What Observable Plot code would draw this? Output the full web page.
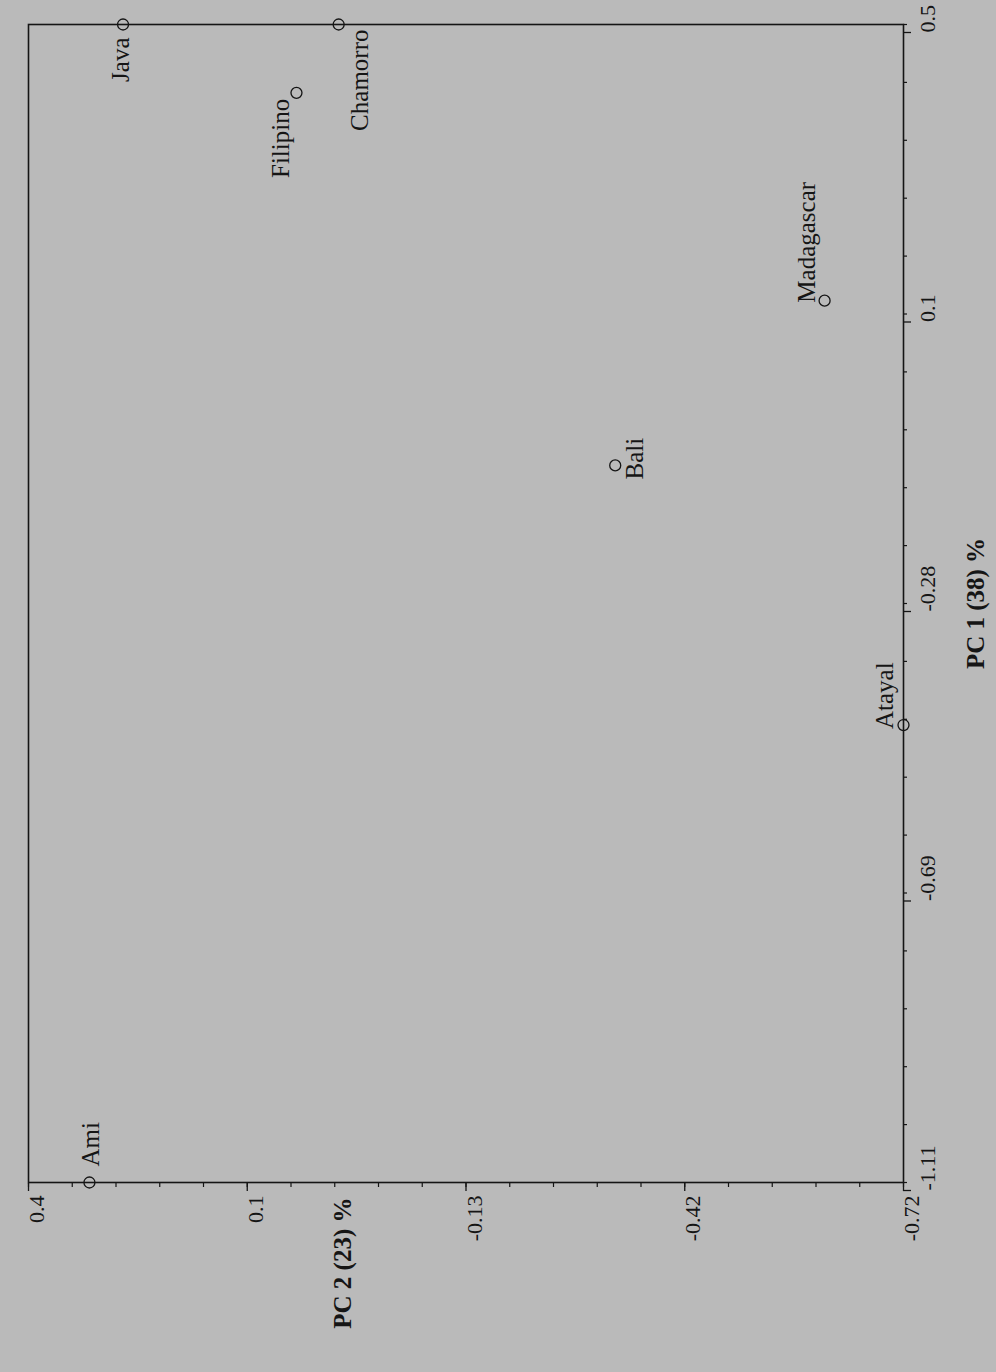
<!DOCTYPE html>
<html><head><meta charset="utf-8">
<script src="https://cdn.jsdelivr.net/npm/d3@7"></script>
<script src="https://cdn.jsdelivr.net/npm/@observablehq/plot@0.6"></script>
<style>
html,body{margin:0;padding:0;background:#bababa;width:996px;height:1372px;overflow:hidden}
#stage{position:absolute;left:0;top:0;width:1372px;height:996px;transform-origin:0 0;transform:translate(0px,1372px) rotate(-90deg)}
</style></head><body><div id="stage"></div>
<script>
// ---- data ----
const names = ["Ami", "Java", "Chamorro", "Filipino", "Bali", "Madagascar", "Atayal"];
const pc1 = [-1.11, 0.50, 0.50, 0.405, -0.113, 0.116, -0.474];
const pc2 = [0.322, 0.279, 0.003, 0.057, -0.351, -0.619, -0.72];
const pc1Domain = [-1.11, 0.5];
const pc2Domain = [-0.72, 0.4];
const pc1TickLabels = ["-1.11", "-0.69", "-0.28", "0.1", "0.5"];
const pc2TickLabels = ["-0.72", "-0.42", "-0.13", "0.1", "0.4"];
const xTitle = "PC 1 (38) %";
const yTitle = "PC 2 (23) %";

// ---- build ----
const data = names.map((name, i) => ({name, pc1: pc1[i], pc2: pc2[i]}));
function evenTicks(domain, n) { return d3.range(n).map(i => domain[0] + i * (domain[1] - domain[0]) / (n - 1)); }
function labeler(domain, labels) {
  const n = labels.length;
  return d => labels[Math.round((d - domain[0]) / (domain[1] - domain[0]) * (n - 1))];
}
const xMajor = evenTicks(pc1Domain, pc1TickLabels.length);
const xMinor = evenTicks(pc1Domain, (pc1TickLabels.length - 1) * 5 + 1);
const yMajor = evenTicks(pc2Domain, pc2TickLabels.length);
const yMinor = evenTicks(pc2Domain, (pc2TickLabels.length - 1) * 5 + 1);

const placement = {
  Ami:        {textAnchor: "start", lineAnchor: "middle", dx: 16, dy: 2},
  Java:       {textAnchor: "end",   lineAnchor: "middle", dx: -13, dy: -2},
  Chamorro:   {textAnchor: "end",   lineAnchor: "top",    dx: -5, dy: 12},
  Filipino:   {textAnchor: "end",   lineAnchor: "bottom", dx: -6, dy: -7},
  Bali:       {textAnchor: "start", lineAnchor: "top",    dx: -14, dy: 10},
  Madagascar: {textAnchor: "start", lineAnchor: "bottom", dx: -2, dy: -10},
  Atayal:     {textAnchor: "start", lineAnchor: "bottom", dx: -4, dy: -11}
};
const ink = "#151515";

const chart = Plot.plot({
  width: 1372,
  height: 996,
  marginLeft: 189,
  marginRight: 25,
  marginTop: 28,
  marginBottom: 93,
  style: {background: "transparent", fontFamily: "'Liberation Serif', 'Times New Roman', serif", color: ink, maxWidth: "none"},
  x: {domain: pc1Domain},
  y: {domain: pc2Domain},
  marks: [
    Plot.axisX(xMinor, {tickSize: 4, fill: "none", label: null, strokeWidth: 1.2}),
    Plot.axisX(xMajor, {tickSize: 8, tickPadding: 8, tickFormat: labeler(pc1Domain, pc1TickLabels), textAnchor: "start", dx: -8, fontSize: 22, label: null, strokeWidth: 1.3}),
    Plot.axisY(yMinor, {tickSize: 4, fill: "none", label: null, strokeWidth: 1.2}),
    Plot.axisY(yMajor, {tickSize: 8, tickPadding: 5, tickFormat: labeler(pc2Domain, pc2TickLabels), lineAnchor: "top", fontSize: 22, label: null, strokeWidth: 1.3}),
    Plot.frame({stroke: ink, strokeWidth: 1.6}),
    Plot.dot(data, {x: "pc1", y: "pc2", r: 5.5, stroke: ink, strokeWidth: 1.3, fill: "none"}),
    ...Object.entries(placement).map(([n, p]) =>
      Plot.text(data.filter(d => d.name === n), {x: "pc1", y: "pc2", text: "name", fontSize: 25, fill: ink, ...p})
    ),
    Plot.text([xTitle], {frameAnchor: "bottom", dy: 80, lineAnchor: "bottom", text: d => d, fontSize: 25, fontWeight: "bold", fill: ink}),
    Plot.text([yTitle], {frameAnchor: "top-left", dx: -15, dy: 322, textAnchor: "end", lineAnchor: "bottom", text: d => d, fontSize: 25, fontWeight: "bold", fill: ink})
  ]
});
document.getElementById("stage").appendChild(chart);
</script>
</body></html>
